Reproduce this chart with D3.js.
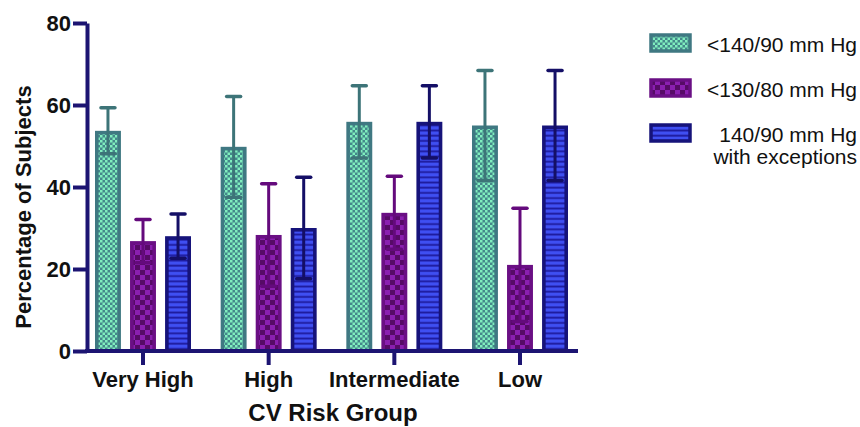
<!DOCTYPE html>
<html>
<head>
<meta charset="utf-8">
<script src="https://cdn.jsdelivr.net/npm/d3@7"></script>
<style>
  body { margin: 0; background: #fff; }
  text { font-family: "Liberation Sans", Arial, sans-serif; }
</style>
</head>
<body>
<script>
const width = 860;
const height = 427;

const groups = ['Very High', 'High', 'Intermediate', 'Low'];
const series = ['<140/90 mm Hg', '<130/80 mm Hg', '140/90 mm Hg with exceptions'];
// mean values per series, in group order
const under140 = [53.7, 49.8, 55.9, 55.0];
const under130 = [26.8, 28.3, 33.7, 21.0];
const withExc = [28.0, 30.0, 55.9, 55.0];
// error (half-length of the bar) per series
const err140 = [5.6, 12.3, 8.8, 13.4];
const err130 = [5.3, 12.5, 8.9, 13.8];
const errExc = [5.4, 12.4, 8.8, 13.4];
const yTicks = [0, 20, 40, 60, 80];

const values = [under140, under130, withExc];
const errors = [err140, err130, errExc];

const axisColor = '#1c1472';
const styles = [
    {pattern: 'pat-green', stroke: '#3f7882', err: '#3d7478'},
    {pattern: 'pat-purple', stroke: '#6a0f84', err: '#640a7c'},
    {pattern: 'pat-blue', stroke: '#16137a', err: '#140f66'}
];

const svg = d3.select('body')
    .append('svg')
    .attr('width', width)
    .attr('height', height);

const defs = svg.append('defs');

// checker teal / mint
const pg = defs.append('pattern')
    .attr('id', 'pat-green')
    .attr('patternUnits', 'userSpaceOnUse')
    .attr('width', 5).attr('height', 5);
pg.append('rect').attr('width', 5).attr('height', 5).attr('fill', '#44888a');
pg.append('rect').attr('width', 2.5).attr('height', 2.5).attr('fill', '#80eebe');
pg.append('rect').attr('x', 2.5).attr('y', 2.5).attr('width', 2.5).attr('height', 2.5).attr('fill', '#80eebe');

// checker purple
const pp = defs.append('pattern')
    .attr('id', 'pat-purple')
    .attr('patternUnits', 'userSpaceOnUse')
    .attr('width', 10).attr('height', 10);
pp.append('rect').attr('width', 10).attr('height', 10).attr('fill', '#8a1fb0');
pp.append('rect').attr('width', 5).attr('height', 5).attr('fill', '#560b66');
pp.append('rect').attr('x', 5).attr('y', 5).attr('width', 5).attr('height', 5).attr('fill', '#560b66');

// horizontal stripes blue
const pb = defs.append('pattern')
    .attr('id', 'pat-blue')
    .attr('patternUnits', 'userSpaceOnUse')
    .attr('width', 10).attr('height', 5.2);
pb.append('rect').attr('width', 10).attr('height', 5.2).attr('fill', '#1d1a9c');
pb.append('rect').attr('y', 1.4).attr('width', 10).attr('height', 3.4).attr('fill', '#3f4ff2');

const x = d3.scalePoint()
    .domain(groups)
    .range([143, 520]);

const xSub = d3.scaleBand()
    .domain(series)
    .range([-48, 48])
    .paddingInner(0.26);

const y = d3.scaleLinear()
    .domain([0, 80])
    .range([351, 23]);

// bars
const barData = [];
groups.forEach((g, gi) => {
    series.forEach((s, si) => {
        barData.push({group: g, series: s, si: si, value: values[si][gi], err: errors[si][gi]});
    });
});

const bw = xSub.bandwidth();
const bars = svg.append('g').attr('class', 'bars');
bars.selectAll('rect')
    .data(barData)
    .enter()
    .append('rect')
    .attr('x', d => x(d.group) + xSub(d.series) + 1.8)
    .attr('y', d => y(d.value) + 1.8)
    .attr('width', bw - 3.6)
    .attr('height', d => y(0) - y(d.value) - 1.8)
    .attr('fill', d => `url(#${styles[d.si].pattern})`)
    .attr('stroke', d => styles[d.si].stroke)
    .attr('stroke-width', 3.6);

// error bars
const errG = svg.append('g').attr('class', 'err');
errG.selectAll('g')
    .data(barData)
    .enter()
    .append('g')
    .attr('transform', d => `translate(${x(d.group) + xSub(d.series) + bw / 2}, 0)`)
    .each(function (d) {
        const g = d3.select(this);
        const c = styles[d.si].err;
        g.append('line')
            .attr('y1', y(d.value + d.err)).attr('y2', y(d.value - d.err))
            .attr('stroke', c).attr('stroke-width', 3);
        [d.value + d.err, d.value - d.err].forEach(v => {
            g.append('line')
                .attr('x1', -7).attr('x2', 7)
                .attr('y1', y(v)).attr('y2', y(v))
                .attr('stroke', c).attr('stroke-width', 3.5)
                .attr('stroke-linecap', 'round');
        });
    });

// y axis
const yAxis = svg.append('g')
    .attr('transform', 'translate(87,0)')
    .call(d3.axisLeft(y).tickValues(yTicks).tickSize(14).tickSizeOuter(0).tickPadding(2));
yAxis.select('.domain').attr('stroke', axisColor).attr('stroke-width', 4);
yAxis.selectAll('.tick line').attr('stroke', axisColor).attr('stroke-width', 4);
yAxis.selectAll('.tick text')
    .attr('fill', '#111')
    .attr('font-size', 22)
    .attr('font-weight', 'bold')
    .attr('font-family', '"Liberation Sans", Arial, sans-serif');

// x axis
const xAxisG = svg.append('g').attr('class', 'x-axis');
xAxisG.append('line')
    .attr('x1', 85).attr('x2', 578)
    .attr('y1', y(0)).attr('y2', y(0))
    .attr('stroke', axisColor).attr('stroke-width', 4);
xAxisG.selectAll('.xtick')
    .data(groups)
    .enter()
    .append('line')
    .attr('x1', d => x(d)).attr('x2', d => x(d))
    .attr('y1', y(0)).attr('y2', y(0) + 14)
    .attr('stroke', axisColor).attr('stroke-width', 4);
xAxisG.selectAll('.xlabel')
    .data(groups)
    .enter()
    .append('text')
    .attr('x', d => x(d))
    .attr('y', 387)
    .attr('text-anchor', 'middle')
    .attr('font-size', 22)
    .attr('font-weight', 'bold')
    .attr('fill', '#111')
    .text(d => d);

// axis titles
svg.append('text')
    .attr('x', 333)
    .attr('y', 421)
    .attr('text-anchor', 'middle')
    .attr('font-size', 24)
    .attr('font-weight', 'bold')
    .attr('fill', '#111')
    .text('CV Risk Group');

svg.append('text')
    .attr('transform', 'translate(31,207) rotate(-90)')
    .attr('text-anchor', 'middle')
    .attr('font-size', 22)
    .attr('font-weight', 'bold')
    .attr('fill', '#111')
    .text('Percentage of  Subjects');

// legend
const legendRows = [
    {lines: ['<140/90 mm Hg'], y: 34},
    {lines: ['<130/80 mm Hg'], y: 79},
    {lines: ['140/90 mm Hg', 'with exceptions'], y: 124}
];
const legend = svg.append('g').attr('class', 'legend');
legendRows.forEach((r, i) => {
    legend.append('rect')
        .attr('x', 651).attr('y', r.y + 1)
        .attr('width', 39).attr('height', 16)
        .attr('fill', `url(#${styles[i].pattern})`)
        .attr('stroke', styles[i].stroke)
        .attr('stroke-width', 3.5);
    r.lines.forEach((t, j) => {
        legend.append('text')
            .attr('x', 857)
            .attr('y', r.y + 18 + j * 22)
            .attr('text-anchor', 'end')
            .attr('font-size', 21)
            .attr('fill', '#111')
            .text(t);
    });
});
</script>
</body>
</html>
